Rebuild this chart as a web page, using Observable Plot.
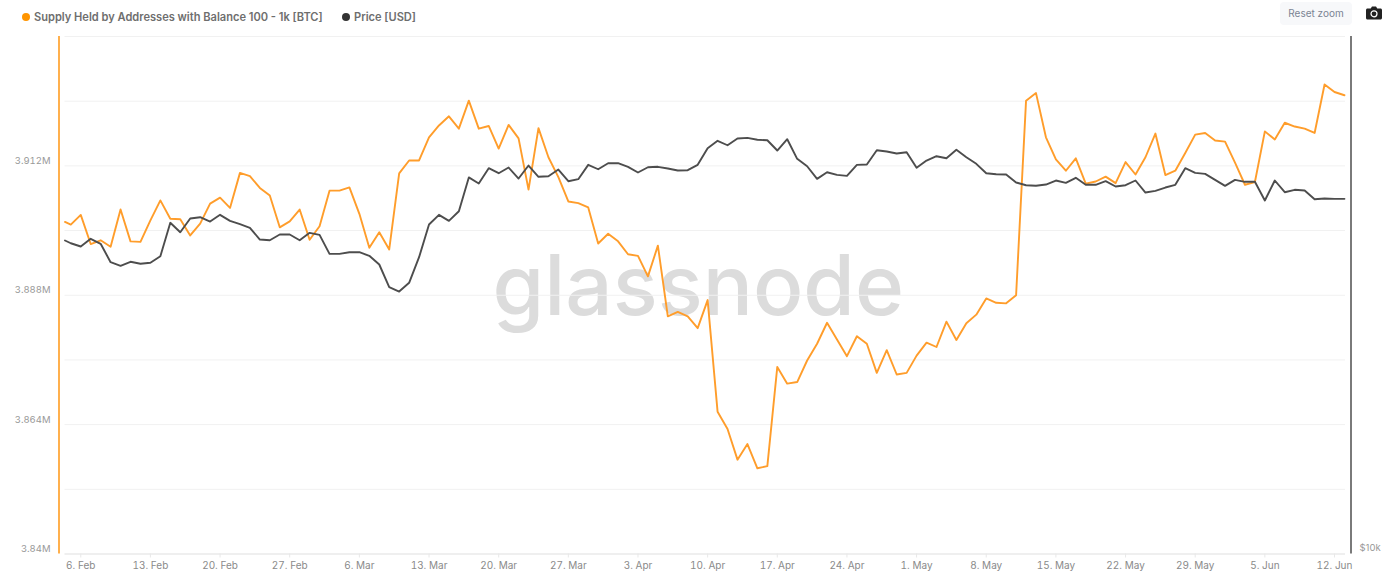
<!DOCTYPE html>
<html>
<head>
<meta charset="utf-8">
<script src="https://cdn.jsdelivr.net/npm/d3@7"></script>
<script src="https://cdn.jsdelivr.net/npm/@observablehq/plot@0.6"></script>
<style>
html,body{margin:0;padding:0;background:#fff;width:1396px;height:584px;overflow:hidden;font-family:Inter,sans-serif}
#wrap{position:relative;width:1396px;height:584px}
#wrap svg.plot{position:absolute;left:0;top:0}
.leg{position:absolute;top:10px;font-size:11.08px;font-weight:600;color:#6e6e6e;line-height:14px;white-space:nowrap}
.dot{position:absolute;top:12.5px;width:8px;height:8px;border-radius:50%}
#reset{position:absolute;left:1280px;top:2px;width:72px;height:23px;background:#f7f8fa;border-radius:4px;font-size:10px;line-height:23px;text-align:center;color:#7b8494}
#cam{position:absolute;left:1366px;top:6px}
</style>
</head>
<body>
<div id="wrap">
  <div class="dot" style="left:22px;background:#ff9500"></div>
  <div class="leg" style="left:34px">Supply Held by Addresses with Balance 100 - 1k [BTC]</div>
  <div class="dot" style="left:342px;background:#333"></div>
  <div class="leg" style="left:354px">Price [USD]</div>
  <div id="reset">Reset zoom</div>
  <svg id="cam" width="16" height="14" viewBox="0 0 16 14"><path fill="#222" d="M1.5 2.5h3.2L6 .6h4l1.3 1.9h3.2c.8 0 1.5.7 1.5 1.5v8c0 .8-.7 1.5-1.5 1.5h-13C.7 13.5 0 12.8 0 12V4c0-.8.7-1.5 1.5-1.5z"/><circle cx="8" cy="7.8" r="3" fill="none" stroke="#fff" stroke-width="1.2"/></svg>
</div>
<script>
// Supply held, thousands of BTC, one value per date
const supply = [3901.6,3901.1,3902.9,3897.5,3898.2,3897.0,3903.9,3898.0,3897.9,3901.9,3905.6,3902.2,3902.1,3899.1,3901.3,3905.0,3906.1,3904.2,3910.7,3910.1,3907.9,3906.5,3900.6,3901.7,3903.9,3898.3,3900.8,3907.4,3907.4,3908.0,3903.1,3896.8,3899.7,3896.5,3910.6,3913.0,3913.0,3917.3,3919.5,3921.2,3918.9,3924.1,3918.9,3919.4,3915.2,3919.6,3917.1,3907.6,3919.0,3913.6,3909.9,3905.4,3905.1,3904.3,3897.6,3899.4,3898.0,3895.6,3895.3,3891.5,3897.2,3884.1,3884.9,3884.1,3881.9,3887.1,3866.4,3863.2,3857.5,3860.4,3855.9,3856.3,3874.7,3871.6,3871.9,3875.9,3879.0,3882.9,3879.8,3876.7,3880.4,3879.0,3873.6,3877.8,3873.3,3873.6,3876.8,3879.2,3878.4,3883.1,3879.7,3882.8,3884.4,3887.4,3886.6,3886.5,3888.0,3924.1,3925.5,3917.3,3913.2,3911.1,3913.4,3908.7,3909.1,3910.0,3908.8,3912.7,3910.4,3913.6,3918.0,3910.3,3911.1,3914.4,3917.8,3918.1,3916.7,3916.5,3912.6,3908.5,3909.0,3918.4,3916.9,3920.0,3919.3,3918.9,3918.1,3927.1,3925.7,3925.1];
// Price, USD
const price = [23160,22990,22790,23264,22955,21852,21641,21875,21758,21816,22204,24283,23679,24564,24650,24367,24808,24412,24192,23960,23220,23176,23532,23532,23176,23640,23514,22346,22346,22444,22444,22228,21717,20436,20201,20678,22145,24171,24808,24412,25048,27424,26978,28107,27733,28159,27342,28311,27468,27512,28007,27146,27293,28363,28030,28486,28486,28213,27785,28182,28213,28084,27935,27958,28363,29654,30247,29891,30435,30490,30330,30296,29471,30376,28824,28257,27319,27806,27613,27540,28363,28386,29494,29391,29236,29337,28135,28693,29025,28870,29525,28948,28440,27733,27656,27636,27050,26855,26813,26907,27197,27027,27393,26885,26885,27146,26762,26855,27197,26334,26456,26690,26885,28107,27762,27688,27246,26813,27246,27102,27102,25777,27197,26357,26527,26478,25867,25916,25894,25894];
const firstStamp = new Date("2023-02-04T10:00:00Z");
const lastStamp = new Date("2023-06-13T02:30:00Z");
const dates = [firstStamp, ...d3.utcDay.range(new Date("2023-02-05"), new Date("2023-06-14"))];
const xTicks = d3.utcDay.range(new Date("2023-02-06"), new Date("2023-06-13"), 7);
const yTicks = [3840, 3864, 3888, 3912];
const yGrid = [3840, 3852, 3864, 3876, 3888, 3900, 3912, 3924, 3936];
const priceLabels = [10000];

const supplyDomain = [3840, 3936];
const priceOnSupply = d3.scaleLog([10000, 40000], supplyDomain);
const rows = dates.map((date, i) => ({date, supply: supply[i], price: priceOnSupply(price[i])}));
const fmtTick = d3.utcFormat("%-d. %b");

const chart = Plot.plot({
  width: 1396, height: 584,
  marginLeft: 64.5, marginRight: 51, marginTop: 36, marginBottom: 30.5,
  style: {background: "transparent", fontFamily: "Inter, sans-serif"},
  x: {type: "utc", domain: [firstStamp, lastStamp]},
  y: {domain: supplyDomain},
  marks: [
    Plot.text(["glassnode"], {frameAnchor: "middle", dx: -7, dy: -7, fontSize: 83.5, fontWeight: 500, fill: "#dcdcdc", fontFamily: "Inter, sans-serif"}),
    Plot.ruleY(yGrid, {stroke: "#f1f1f1", strokeWidth: 1}),
    Plot.ruleY([3840], {stroke: "#e6e6e6", strokeWidth: 1.2}),
    Plot.ruleX([firstStamp], {dx: -6, stroke: "#ffb04d", strokeWidth: 2}),
    Plot.ruleX([lastStamp], {dx: 5.5, stroke: "#7a7a7a", strokeWidth: 2}),
    Plot.axisX({ticks: xTicks, tickFormat: fmtTick, tickSize: 4, tickPadding: 4, stroke: "#e8e8e8", fill: "#8a8a8a", fontSize: 10, label: null}),
    Plot.axisY({ticks: yTicks, tickFormat: d => d / 1000 + "M", tickSize: 0, tickPadding: 14.5, dy: -5, fill: "#999", fontSize: 9.5, label: null}),
    Plot.text(priceLabels, {y: d => priceOnSupply(d), text: d => "$" + d / 1000 + "k", frameAnchor: "right", dx: 14, dy: -6, textAnchor: "start", fill: "#999", fontSize: 9.5}),
    Plot.line(rows, {x: "date", y: "supply", stroke: "#ff9d2b", strokeWidth: 1.9}),
    Plot.line(rows, {x: "date", y: "price", stroke: "#4d4d4d", strokeWidth: 1.9})
  ]
});
chart.classList.add("plot");
document.getElementById("wrap").prepend(chart);
</script>
</body>
</html>
